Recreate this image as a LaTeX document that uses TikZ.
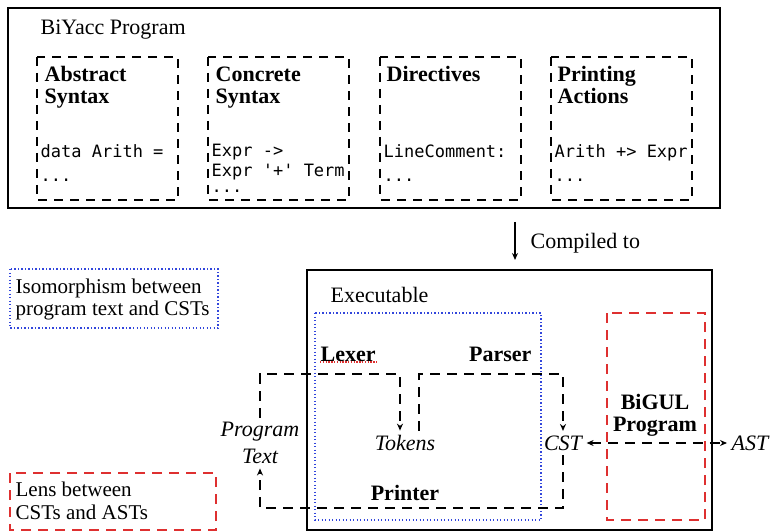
\documentclass[tikz,border=0pt]{standalone}
\usepackage{fontspec}
\setmainfont{Liberation Serif}
\setmonofont{DejaVu Sans Mono}
\usetikzlibrary{arrows.meta}
\definecolor{lensred}{RGB}{222,48,48}
\definecolor{isoblue}{RGB}{50,70,220}
\tikzset{
  txt/.style={font=\fontsize{22}{22}\selectfont, inner sep=0pt, align=left, anchor=base west},
  note/.style={font=\fontsize{21}{22.5}\selectfont, inner sep=0pt, align=left, anchor=base west},
  hd/.style={font=\fontsize{22}{22}\selectfont\bfseries, inner sep=0pt, align=left, anchor=base west},
  term/.style={font=\fontsize{22}{24}\selectfont\itshape, inner sep=4pt},
  code/.style={font=\fontsize{17}{19}\selectfont\ttfamily, inner sep=0pt, anchor=base west},
  part/.style={line width=1.3pt, dash pattern=on 9pt off 7pt},
  flow/.style={line width=1.3pt, dash pattern=on 10pt off 7pt},
  iso/.style={isoblue, line width=1.3pt, dash pattern=on 1.3pt off 2.2pt},
  lens/.style={lensred, line width=1.4pt, dash pattern=on 10pt off 7pt},
  tip/.style={-{Stealth[length=7pt,width=6pt]}}
}
\begin{document}
\begin{tikzpicture}[x=1pt,y=-1pt,line width=1.3pt]
\useasboundingbox (0,0) rectangle (772,532);
\draw (8,8) rectangle (720,208);
\node (biyacc) at (40,35) [txt] {BiYacc Program};
\draw[part] (37,57) rectangle (178,200);
\draw[part] (208,57) rectangle (349,200);
\draw[part] (380,57) rectangle (521,200);
\draw[part] (551,57) rectangle (692,200);
\node (abs) at (44,104) [hd] {Abstract\\Syntax};
\node (con) at (215,104) [hd] {Concrete\\Syntax};
\node (dir) at (386,82) [hd] {Directives};
\node (pact) at (557,104) [hd] {Printing\\Actions};
\node (absA) at (40,158) [code] {data Arith =};
\node (absB) at (40,182) [code] {...};
\node (conA) at (211,157) [code] {Expr ->};
\node (conB) at (211,177) [code] {Expr '+' Term};
\node (conC) at (211,193) [code] {...};
\node (dirA) at (383,158) [code] {LineComment:};
\node (dirB) at (383,182) [code] {...};
\node (pactA) at (554,158) [code] {Arith +> Expr};
\node (pactB) at (554,182) [code] {...};
\coordinate (cfrom) at (515,222);
\coordinate (cto) at (515,260);
\draw[tip] (cfrom) -- (cto);
\node (compiled) at (530,249) [txt] {Compiled to};
\draw[iso] (10,269) rectangle (218,328);
\node (isotext) at (15,316) [note] {Isomorphism between\\program text and CSTs};
\draw[lens] (10,473) rectangle (216,530);
\node (lenstext) at (15,519) [note] {Lens between\\CSTs and ASTs};
\draw (307,270) rectangle (712,530);
\node (exe) at (330,302) [txt] {Executable};
\draw[iso] (315,313) rectangle (541,520);
\draw[lens] (607,313) rectangle (705,520);
\node (lexer) at (320,361) [hd] {Lexer};
\draw[lensred, line width=1.3pt, dash pattern=on 1.3pt off 1.5pt] (lexer.south west) -- (lexer.south east);
\node (parser) at (532,361) [hd, anchor=base east] {Parser};
\node (printer) at (405,500) [hd, anchor=base] {Printer};
\node (bigul) at (655,415) [hd, anchor=center, align=center] {BiGUL\\Program};
\node (prog) at (260,443) [term, align=center] {Program\\[3pt]Text};
\node (tok) at (405,443) [term] {Tokens};
\node (cst) at (563,443) [term] {CST};
\node (ast) at (750,443) [term] {AST};
\coordinate (top) at (0,374);
\coordinate (bot) at (0,508);
\draw[flow, tip] (prog.north) -- (prog.north |- top) -| ([xshift=-5pt]tok.north);
\draw[flow, tip] ([xshift=14pt]tok.north) -- ([xshift=14pt]tok.north |- top) -| (cst.north);
\draw[flow, tip] (cst.south) -- (cst.south |- bot) -| (prog.south);
\draw[flow, {Stealth[length=7pt,width=6pt]}-{Stealth[length=7pt,width=6pt]}] (cst.east) -- (ast.west);
\end{tikzpicture}
\end{document}
